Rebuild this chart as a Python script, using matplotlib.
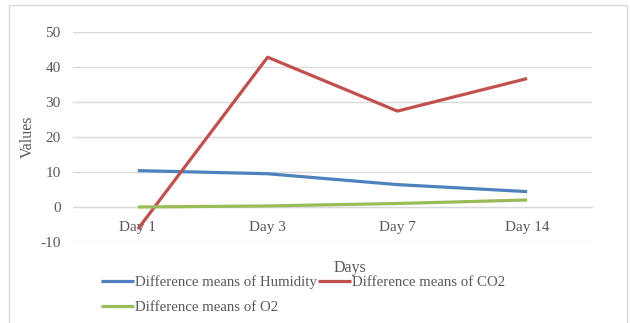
import matplotlib
matplotlib.use("Agg")
import matplotlib.pyplot as plt
from matplotlib.patches import Rectangle

# Data
days = ["Day 1", "Day 3", "Day 7", "Day 14"]
humidity = [10.4, 9.5, 6.4, 4.4]
co2 = [-6.3, 42.8, 27.4, 36.7]
o2 = [0.0, 0.3, 1.0, 2.0]

series_labels = ["Difference means of Humidity", "Difference means of CO2",
                 "Difference means of O2"]
colors = ["#4F81BD", "#C0504D", "#9BBB59"]
text_gray = "#595959"
grid_gray = "#D9D9D9"

plt.rcParams["font.family"] = ["Liberation Serif", "DejaVu Serif"]
plt.rcParams["axes.unicode_minus"] = False

fig = plt.figure(figsize=(6.30, 3.23), dpi=100)
ax = fig.add_axes([73 / 630, 1 - 242 / 323, (592 - 73) / 630, (242 - 32) / 323])

x = range(len(days))
lines = []
for vals, col, lab in zip([humidity, co2, o2], colors, series_labels):
    ln, = ax.plot(x, vals, color=col, lw=2.3, label=lab,
                  solid_capstyle="butt", zorder=3)
    lines.append(ln)

ax.set_xlim(-0.5, len(days) - 0.5)
ax.set_ylim(-10, 50)
ax.set_yticks(range(-10, 51, 10))
ax.yaxis.grid(True, color=grid_gray, lw=1)
ax.set_axisbelow(True)
ax.tick_params(axis="y", length=0, pad=9, labelsize=11, labelcolor=text_gray)

# category axis crosses at zero
ax.spines["bottom"].set_position(("data", 0))
ax.spines["bottom"].set_color(grid_gray)
for s in ["top", "right", "left"]:
    ax.spines[s].set_visible(False)
ax.set_xticks(list(x))
ax.set_xticklabels(days)
ax.tick_params(axis="x", length=0, pad=10, labelsize=11, labelcolor=text_gray)

fig.text(28 / 630, 1 - 137 / 323, "Values", rotation=90, ha="center",
         va="center", fontsize=11.5, color=text_gray)
fig.text(350 / 630, 1 - 268 / 323, "Days", ha="center", va="center",
         fontsize=11.5, color=text_gray)

# legend filled row by row: Humidity, CO2 / O2
leg = fig.legend(handles=[lines[0], lines[2], lines[1]], loc="upper left", ncol=2,
                 bbox_to_anchor=(101 / 630, 1 - 275 / 323), frameon=False,
                 fontsize=10.7, handlelength=2.25, handletextpad=0.05,
                 columnspacing=0.05, labelspacing=0.8, borderaxespad=0,
                 borderpad=0)
for t in leg.get_texts():
    t.set_color(text_gray)

# outer chart frame
fig.patches.append(Rectangle((9 / 630, -0.05), (627 - 9) / 630, 1 - 5 / 323 + 0.05,
                             transform=fig.transFigure, fill=False,
                             edgecolor="#D9D9D9", lw=1))

fig.savefig("out.png", dpi=100)
